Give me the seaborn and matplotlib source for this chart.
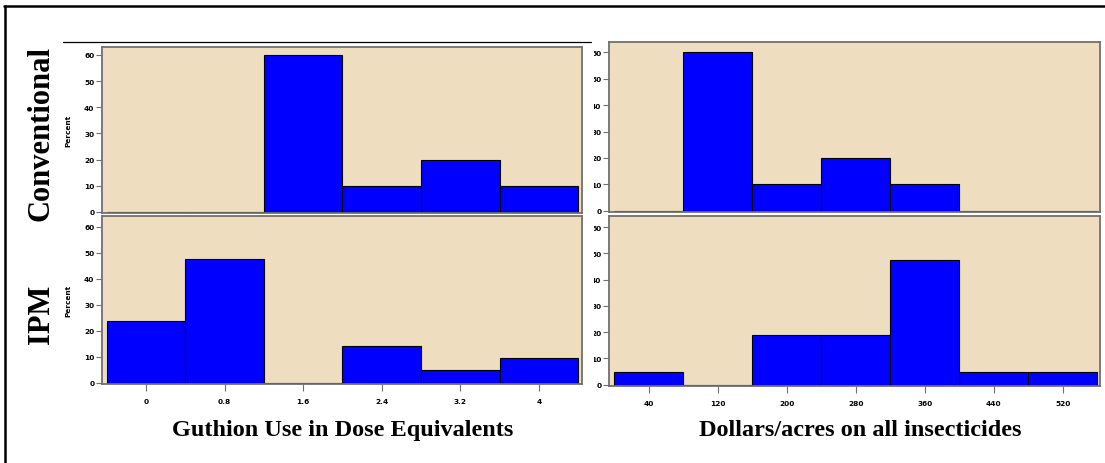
import matplotlib
matplotlib.use("Agg")
import matplotlib.pyplot as plt
from matplotlib.lines import Line2D
from matplotlib.patches import Rectangle
import seaborn as sns

# Percent of growers per bin
guthion_centers = [0.0, 0.8, 1.6, 2.4, 3.2, 4.0]
guthion_edges = [-0.4, 0.4, 1.2, 2.0, 2.8, 3.6, 4.4]
guthion_conventional = [0.0, 0.0, 60.0, 10.0, 20.0, 10.0]
guthion_ipm = [23.8, 47.6, 0.0, 14.3, 4.8, 9.5]

dollar_centers = [40, 120, 200, 280, 360, 440, 520]
dollar_edges = [0, 80, 160, 240, 320, 400, 480, 560]
dollar_conventional = [0.0, 60.0, 10.0, 20.0, 10.0, 0.0, 0.0]
dollar_ipm = [4.8, 0.0, 19.0, 19.0, 47.6, 4.8, 4.8]

y_ticks = [0, 10, 20, 30, 40, 50, 60]
row_labels = ["Conventional", "IPM"]
x_titles = ["Guthion Use in Dose Equivalents", "Dollars/acres on all insecticides"]
y_title = "Percent"

sns.set_style("ticks")
plt.rcParams.update({
    "text.color": "black",
    "axes.labelcolor": "black",
    "xtick.color": "black",
    "ytick.color": "black",
})

W, H = 1105, 464
fig = plt.figure(figsize=(W / 100, H / 100), dpi=100)
fig.patch.set_facecolor("white")

panel_bg = "#EEDEBF"
spine_col = "#707070"
tick_font = dict(family="DejaVu Sans", weight="bold", size=5.3, color="black")


def px_axes(x0, y0, x1, y1):
    return fig.add_axes([x0 / W, 1 - y1 / H, (x1 - x0) / W, (y1 - y0) / H])


def draw_panel(ax, centers, edges, values, xlim, ylim, show_x, show_ylabel):
    # empty bins are left out so they draw no outline on the baseline
    xs = [c for c, v in zip(centers, values) if v > 0]
    ws = [v for v in values if v > 0]
    sns.histplot(x=xs, weights=ws, bins=edges, ax=ax,
                 color="#0000FF", edgecolor="black", linewidth=0.8,
                 alpha=1.0, stat="count")
    ax.set_facecolor(panel_bg)
    ax.set_xlim(*xlim)
    ax.set_ylim(*ylim)
    ax.set_yticks(y_ticks)
    ax.set_yticklabels([str(t) for t in y_ticks], fontdict=tick_font)
    for s in ax.spines.values():
        s.set_visible(True)
        s.set_color(spine_col)
        s.set_linewidth(1.3)
    ax.tick_params(axis="y", length=4, width=0.8, color=spine_col, pad=1.5)
    if show_x:
        ax.set_xticks(centers)
        ax.set_xticklabels([("%g" % c) for c in centers], fontdict=tick_font)
        ax.tick_params(axis="x", length=5, width=0.8, color=spine_col, pad=5)
    else:
        ax.set_xticks([])
    ax.set_xlabel("")
    if show_ylabel:
        ax.set_ylabel(y_title, fontdict=tick_font)
        ax.yaxis.set_label_coords(-31 / ax.bbox.width, 0.5)
    else:
        ax.set_ylabel("")


ax_lt = px_axes(102, 48, 582, 214)
ax_lb = px_axes(102, 217, 582, 385)
ax_rt = px_axes(609, 43, 1100, 213)
ax_rb = px_axes(609, 217, 1100, 387)

draw_panel(ax_lt, guthion_centers, guthion_edges, guthion_conventional,
           (-0.45, 4.44), (-0.4, 63.0), False, True)
draw_panel(ax_lb, guthion_centers, guthion_edges, guthion_ipm,
           (-0.45, 4.44), (-0.4, 64.2), True, True)
draw_panel(ax_rt, dollar_centers, dollar_edges, dollar_conventional,
           (-6, 563), (-0.4, 63.8), False, False)
draw_panel(ax_rb, dollar_centers, dollar_edges, dollar_ipm,
           (-6, 563), (-0.5, 64.2), True, False)

# the right-hand y tick labels are cut off where the left panels end
fig.add_artist(Rectangle((584 / W, 1 - 395 / H), (593.5 - 584) / W, 350 / H,
                         transform=fig.transFigure, facecolor="white",
                         edgecolor="none", zorder=10))

# row titles
for label, yc in zip(row_labels, (134, 314)):
    fig.text(41 / W, 1 - yc / H, label, rotation=90, ha="center", va="center",
             family="Liberation Serif", weight="bold", size=22, color="black")

# axis titles
for label, xc in zip(x_titles, (343, 860)):
    fig.text(xc / W, 1 - 431 / H, label, ha="center", va="center",
             family="Liberation Serif", weight="bold", size=17.5, color="black")

# frame lines
fig.add_artist(Line2D([63 / W, 591 / W], [1 - 43 / H] * 2, color="black", lw=0.9, zorder=11))
fig.add_artist(Line2D([4 / W, 1.0], [1 - 6.5 / H] * 2, color="black", lw=1.8))
fig.add_artist(Line2D([4.5 / W] * 2, [0.0, 1 - 6.5 / H], color="black", lw=1.8))

fig.savefig("out.png", dpi=100)
